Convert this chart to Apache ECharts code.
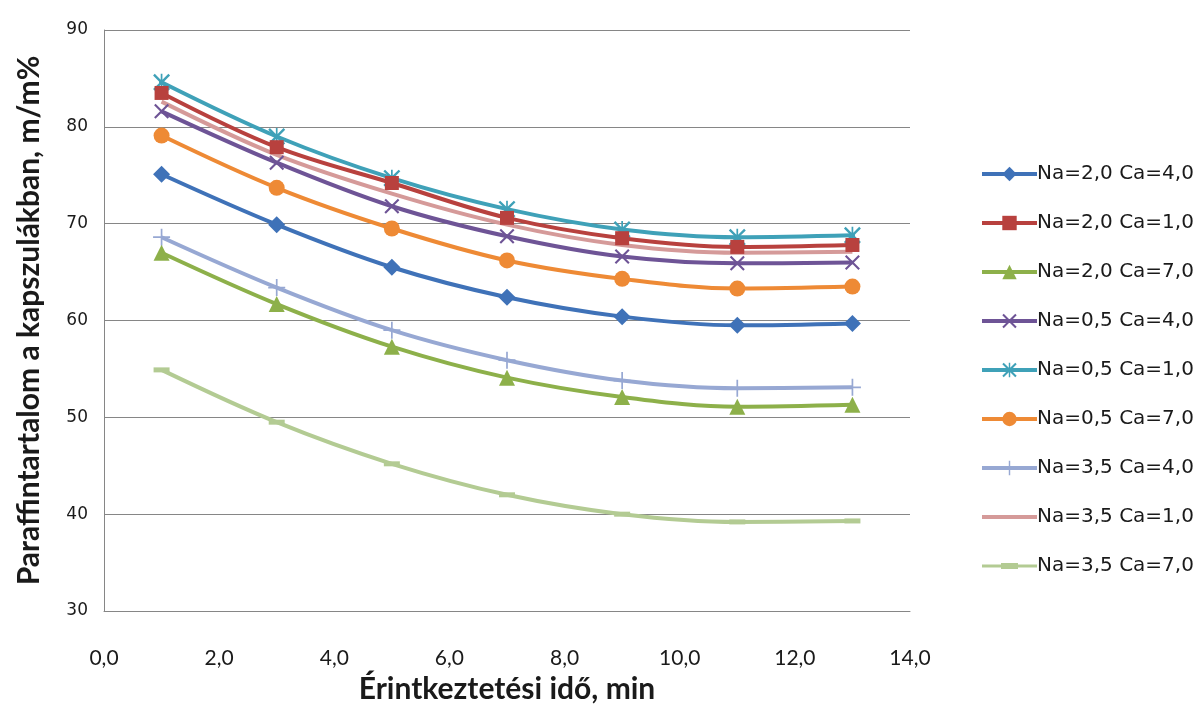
<!DOCTYPE html>
<html>
<head>
<meta charset="utf-8">
<script src="https://cdn.jsdelivr.net/npm/echarts@6/dist/echarts.min.js"></script>
<style>
  html, body { margin: 0; padding: 0; background: #ffffff; }
  #chart { width: 1198px; height: 705px; }
</style>
</head>
<body>
<div id="chart"></div>
<script>
// Contact time (min)
const contactTimes = [1, 3, 5, 7, 9, 11, 13];

// Paraffin content in the capsules (m/m%) per Na / Ca setting
const na20ca40 = [75.1, 69.9, 65.5, 62.4, 60.4, 59.5, 59.7];
const na20ca10 = [83.5, 77.9, 74.2, 70.6, 68.5, 67.6, 67.8];
const na20ca70 = [67.0, 61.7, 57.3, 54.1, 52.1, 51.1, 51.3];
const na05ca40 = [81.6, 76.3, 71.8, 68.7, 66.6, 65.9, 66.0];
const na05ca10 = [84.6, 79.0, 74.7, 71.5, 69.4, 68.6, 68.8];
const na05ca70 = [79.1, 73.7, 69.5, 66.2, 64.3, 63.3, 63.5];
const na35ca40 = [68.6, 63.4, 59.0, 55.9, 53.8, 53.0, 53.1];
const na35ca10 = [82.6, 77.1, 73.1, 69.9, 67.8, 67.0, 67.1];
const na35ca70 = [54.9, 49.5, 45.2, 42.0, 40.0, 39.2, 39.3];

const seriesNames = [
  'Na=2,0 Ca=4,0', 'Na=2,0 Ca=1,0', 'Na=2,0 Ca=7,0',
  'Na=0,5 Ca=4,0', 'Na=0,5 Ca=1,0', 'Na=0,5 Ca=7,0',
  'Na=3,5 Ca=4,0', 'Na=3,5 Ca=1,0', 'Na=3,5 Ca=7,0'
];
const seriesValues = [na20ca40, na20ca10, na20ca70, na05ca40, na05ca10, na05ca70, na35ca40, na35ca10, na35ca70];

const xTicks = { min: 0, max: 14, step: 2 };
const yTicks = { min: 30, max: 90, step: 10 };

// marker shapes drawn as filled outlines
const crossPath = 'path://M2,0 L10,8 L18,0 L20,2 L12,10 L20,18 L18,20 L10,12 L2,20 L0,18 L8,10 L0,2 Z';
const starPath = 'path://M2,0 L9,7 L9,0 L11,0 L11,7 L18,0 L20,2 L13,9 L13,11 L20,18 L18,20 L11,13 L11,20 L9,20 L9,13 L2,20 L0,18 L7,11 L7,9 L0,2 Z';
const plusPath = 'path://M9,0 L11,0 L11,9 L20,9 L20,11 L11,11 L11,20 L9,20 L9,11 L0,11 L0,9 L9,9 Z';
// legend key: thin line with a short flat dash in the middle
const dashKeyPath = 'path://M0,1.5 L55,1.5 L55,4.5 L0,4.5 Z M19,0 L36,0 L36,6 L19,6 Z';

const styles = [
  { color: '#3F72B8', symbol: 'diamond', size: 17 },
  { color: '#B8413E', symbol: 'rect', size: 14 },
  { color: '#8DB04A', symbol: 'triangle', size: 16 },
  { color: '#6E5496', symbol: crossPath, size: 15 },
  { color: '#3FA1B8', symbol: starPath, size: 17 },
  { color: '#EE8A35', symbol: 'circle', size: 16 },
  { color: '#97A8D3', symbol: plusPath, size: 17 },
  { color: '#D59A99', symbol: 'none', size: 0 },
  { color: '#B3CB93', symbol: 'rect', size: [16, 5] }
];

const fmt = v => v.toFixed(1).replace('.', ',');

const series = seriesNames.map((name, i) => ({
  name: name,
  type: 'line',
  smooth: 0.35,
  data: contactTimes.map((t, k) => [t, seriesValues[i][k]]),
  symbol: styles[i].symbol,
  symbolSize: styles[i].size,
  showSymbol: styles[i].symbol !== 'none',
  lineStyle: { color: styles[i].color, width: 4 },
  itemStyle: { color: styles[i].color, borderWidth: 0 },
  emphasis: { disabled: true },
  z: 10 - i
}));

// legend entries; the marker-less series keeps only its line
const legendItems = seriesNames.map((name, i) => {
  if (styles[i].symbol === 'none') return { name: name, itemStyle: { opacity: 0 } };
  if (i === 8) return { name: name, icon: dashKeyPath };
  return { name: name };
});

const chart = echarts.init(document.getElementById('chart'), null, { renderer: 'canvas' });
chart.setOption({
  animation: false,
  backgroundColor: '#ffffff',
  grid: { left: 104, right: 288, top: 30, bottom: 94, containLabel: false, outerBoundsMode: 'none' },
  xAxis: {
    type: 'value',
    min: xTicks.min, max: xTicks.max, interval: xTicks.step,
    name: 'Érintkeztetési idő, min',
    nameLocation: 'middle',
    nameGap: 62,
    nameTextStyle: { fontFamily: 'Lato', fontWeight: 'bold', fontSize: 30, color: '#1a1a1a' },
    axisLine: { show: true, lineStyle: { color: '#868686', width: 1 } },
    axisTick: { show: false },
    splitLine: { show: false },
    axisLabel: { formatter: fmt, fontFamily: 'Lato', fontSize: 21, color: '#1a1a1a', margin: 37 }
  },
  yAxis: {
    type: 'value',
    min: yTicks.min, max: yTicks.max, interval: yTicks.step,
    name: 'Paraffintartalom a kapszulákban, m/m%',
    nameLocation: 'middle',
    nameGap: 60,
    nameRotate: 90,
    nameTextStyle: { fontFamily: 'Lato', fontWeight: 'bold', fontSize: 30, color: '#1a1a1a' },
    axisLine: { show: true, lineStyle: { color: '#868686', width: 1 } },
    axisTick: { show: false },
    splitLine: { show: true, lineStyle: { color: '#868686', width: 1 } },
    axisLabel: { fontFamily: 'DejaVu Sans', fontSize: 17, color: '#1a1a1a', margin: 16 }
  },
  legend: {
    orient: 'vertical',
    left: 975,
    top: 159,
    itemWidth: 55,
    itemHeight: 18,
    itemGap: 29,
    lineStyle: { width: 4 },
    textStyle: { fontFamily: 'DejaVu Sans', fontSize: 20, color: '#1a1a1a', padding: [0, 0, 0, -5] },
    data: legendItems
  },
  series: series
});
</script>
</body>
</html>
